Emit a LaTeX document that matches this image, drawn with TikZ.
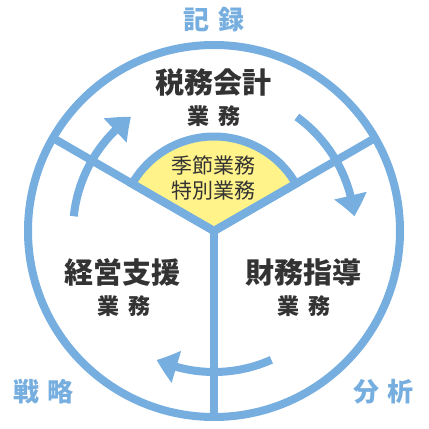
\documentclass[tikz,border=0pt]{standalone}
\usepackage{fontspec}
\newfontfamily\jpfont{Noto Sans CJK JP}
\usepackage{tikz}
\usetikzlibrary{arrows.meta, bending}

\definecolor{ringblue}{HTML}{76AEDF}
\definecolor{fanyellow}{HTML}{FFF38A}
\definecolor{inkgray}{HTML}{333333}

\begin{document}
\begin{tikzpicture}[x=1pt, y=1pt,
  ring/.style={draw=ringblue, line width=8pt},
  turn/.style={ringblue, line width=8pt, -{Triangle[width=32pt, length=21pt, bend]}},
  work/.style={text=inkgray, font=\jpfont\bfseries\fontsize{29}{32}\selectfont, inner sep=0pt},
  sub/.style={text=inkgray, font=\jpfont\bfseries\fontsize{22}{24}\selectfont, inner sep=0pt},
  season/.style={text=inkgray, font=\jpfont\fontsize{21}{24}\selectfont, inner sep=0pt},
  corner/.style={text=ringblue, font=\jpfont\bfseries\fontsize{26}{28}\selectfont, inner sep=0pt}
]
\useasboundingbox (-214,-198) rectangle (215,231);
\coordinate (c) at (0,0);

% inner fan
\filldraw[ring, fill=fanyellow, line join=miter] (c) -- (30:94.5) arc (30:150:94.5) -- cycle;

% outer ring and dividers
\draw[ring] (c) circle (186);
\draw[ring] (c) -- (30:186);
\draw[ring] (c) -- (150:186);
\draw[ring] (c) -- (270:186);

% cycle arrows
\draw[turn] (54:141) arc (54:6:141);
\draw[turn] (294:141) arc (294:246:141);
\draw[turn] (174:141) arc (174:126:141);

% labels
\node[corner] (kiroku) at (0,211) {記\hspace{9pt}録};
\node[corner] (senryaku) at (-170,-161) {戦\hspace{8pt}略};
\node[corner] (bunseki) at (170,-161) {分\hspace{8pt}析};

\node[work] (zeimu) at (0,148.5) {税務会計};
\node[sub] (zeimusub) at (0,115) {業\hspace{9pt}務};
\node[work] (keiei) at (-91,-41) {経営支援};
\node[sub] (keieisub) at (-90,-75) {業\hspace{9pt}務};
\node[work] (zaimu) at (90,-41) {財務指導};
\node[sub] (zaimusub) at (90,-75) {業\hspace{9pt}務};

\node[season] (kisetsu) at (0,66) {季節業務};
\node[season] (tokubetsu) at (0,40) {特別業務};
\end{tikzpicture}
\end{document}
